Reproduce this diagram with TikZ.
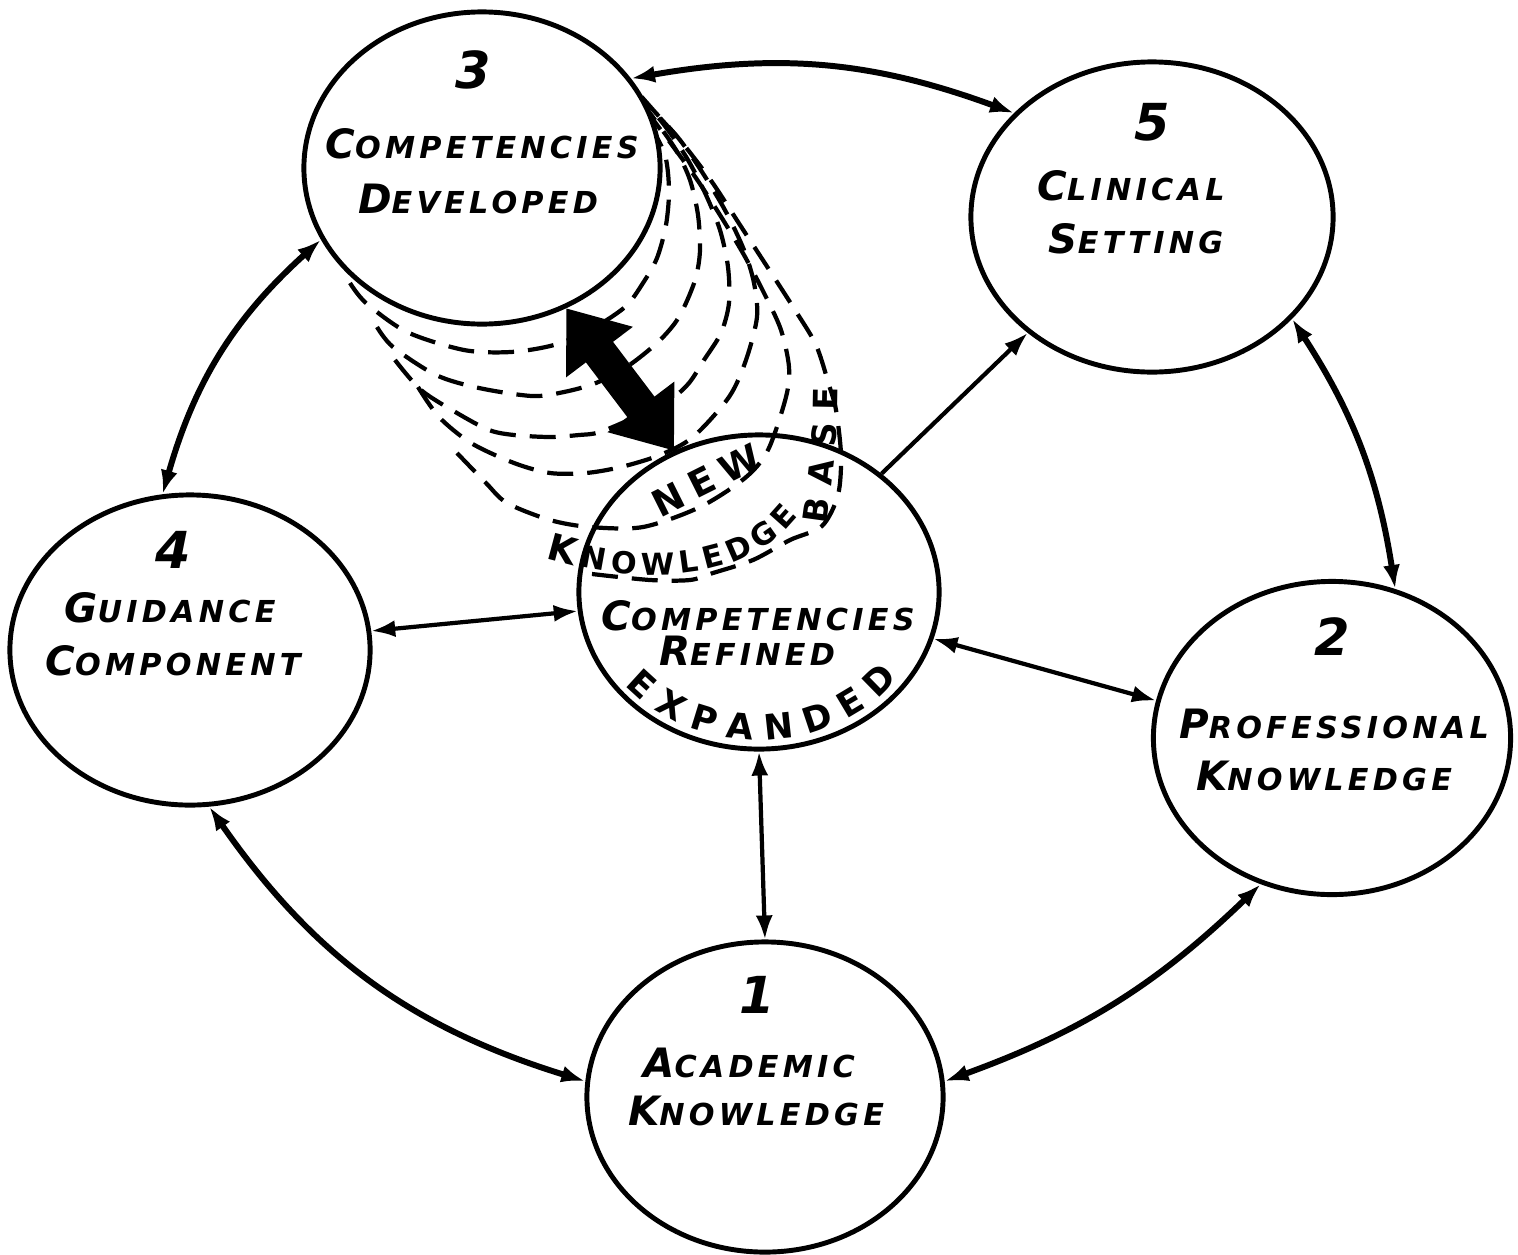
\documentclass[tikz,border=0pt]{standalone}
\usepackage{fontspec}
\setmainfont{DejaVu Sans}
\newfontfamily\hand[LetterSpace=14]{DejaVu Sans}
\newfontfamily\handc{DejaVu Sans}
\usetikzlibrary{shapes.geometric,arrows.meta,decorations.text}
\newcommand\BigL{\fontsize{11.5}{12}\selectfont}
\newcommand\SmL{\fontsize{8.6}{9}\selectfont}
\newcommand\hw[2]{{\BigL #1}{\SmL #2}}
\newcommand\numf{\fontsize{14.5}{15}\selectfont}
\begin{document}
\begin{tikzpicture}[x=0.01cm,y=0.01cm,
  blob/.style={ellipse,draw,line width=1.4pt,inner sep=0pt,fill=white},
  lbl/.style={anchor=base,inner sep=0pt,font=\hand\bfseries\itshape},
  num/.style={anchor=base,inner sep=0pt,font=\handc\bfseries\itshape\numf},
  tipa/.tip={Latex[length=2.4mm,width=1.7mm]},
  link/.style={line width=1.7pt,tipa-tipa},
  slink/.style={line width=1.2pt,tipa-tipa},
  dcurve/.style={line width=1.2pt,dash pattern=on 2.6mm off 1.4mm},
  bigarrow/.style={line width=3.4mm,{Triangle[width=8mm,length=5.5mm]}-{Triangle[width=8mm,length=5.5mm]}}]
\useasboundingbox (0,0) rectangle (1518,-1254);
\fill[white] (0,0) rectangle (1518,-1254);

% dashed echoes of node 3
\draw[dcurve] plot[smooth] coordinates {(350,-283) (366,-303) (407,-332) (464,-350) (511,-352) (554,-345) (590,-330) (625,-307) (643,-283) (657,-258) (666,-225) (669,-190) (665,-155) (650,-125)};
\draw[dcurve] plot[smooth] coordinates {(377,-327) (393,-347) (436,-375) (479,-388) (532,-396) (564,-392) (596,-383) (628,-366) (657,-343) (675,-323) (686,-303) (696,-277) (700,-250) (698,-215) (690,-180) (676,-150) (655,-120) (640,-100)};
\draw[dcurve] plot[smooth] coordinates {(395,-360) (421,-390) (457,-413) (489,-430) (514,-435) (550,-437) (579,-435) (600,-432) (640,-415) (670,-400) (689,-383) (704,-360) (721,-333) (729,-303) (728,-267) (720,-230) (706,-195) (688,-160) (668,-130) (648,-105)};
\draw[dcurve] plot[smooth] coordinates {(418,-387) (439,-417) (471,-443) (514,-463) (550,-473) (586,-473) (621,-467) (660,-455) (693,-437) (729,-397) (746,-360) (757,-317) (754,-283) (744,-250) (726,-212) (704,-175) (680,-140) (655,-112) (640,-95)};
\draw[dcurve] plot[smooth] coordinates {(457,-453) (486,-483) (507,-503) (550,-520) (590,-527) (643,-527) (700,-507) (745,-478) (768,-450) (786,-397) (789,-367) (781,-330) (765,-295) (744,-255) (720,-215) (696,-178) (672,-145) (652,-118) (640,-100)};
\draw[dcurve] plot[smooth] coordinates {(592,-574) (650,-580) (690,-580) (713,-573) (753,-560) (790,-540) (822,-526) (838,-495) (841,-455) (836,-410) (829,-385) (816,-345) (795,-310) (768,-268) (740,-225) (712,-182) (684,-145) (662,-120) (648,-105)};

% nodes
\node[blob,minimum width=3.56cm,minimum height=3.12cm] (n3) at (482,-168) {};
\node[blob,minimum width=3.62cm,minimum height=3.10cm] (n5) at (1152,-217) {};
\node[blob,minimum width=3.60cm,minimum height=3.10cm] (n4) at (190,-650) {};
\node[blob,minimum width=3.60cm,minimum height=3.14cm,fill=none] (nc) at (759,-592) {};
\node[blob,minimum width=3.57cm,minimum height=3.13cm] (n2) at (1332,-738) {};
\node[blob,minimum width=3.56cm,minimum height=3.10cm] (n1) at (765,-1097) {};

% texts
\node[num] (t3) at (473,-88) {3};
\node[lbl] (t3a) at (482,-158) {\hw{C}{OMPETENCIES}};
\node[lbl] (t3b) at (478,-213) {\hw{D}{EVELOPED}};
\node[num] (t5) at (1152,-140) {5};
\node[lbl] (t5a) at (1131,-200) {\hw{C}{LINICAL}};
\node[lbl] (t5b) at (1136,-253) {\hw{S}{ETTING}};
\node[num] (t4) at (173,-568) {4};
\node[lbl] (t4a) at (170,-622) {\hw{G}{UIDANCE}};
\node[lbl] (t4b) at (173,-675) {\hw{C}{OMPONENT}};
\node[lbl] (tca) at (758,-630) {\hw{C}{OMPETENCIES}};
\node[lbl] (tcb) at (747,-665) {\hw{R}{EFINED}};
\node[num] (t2) at (1332,-655) {2};
\node[lbl] (t2a) at (1334,-738) {\hw{P}{ROFESSIONAL}};
\node[lbl] (t2b) at (1324,-790) {\hw{K}{NOWLEDGE}};
\node[num] (t1) at (757,-1013) {1};
\node[lbl] (t1a) at (749,-1077) {\hw{A}{CADEMIC}};
\node[lbl] (t1b) at (756,-1125) {\hw{K}{NOWLEDGE}};

% curved labels
\path[decorate,decoration={text along path,text align=fit to path,
  text={|\handc\bfseries\fontsize{10.5}{11}\selectfont|NEW}}]
  (660,-518) -- (764,-466);
\path[decorate,decoration={text along path,text align=fit to path,
  text={|\handc\bfseries\fontsize{10.5}{11}\selectfont|K|\handc\bfseries\fontsize{8.6}{9}\selectfont|NOWLEDGE}}]
  (546,-558) .. controls (645,-588) and (750,-580) .. (798,-516);
\path[decorate,decoration={text along path,text align=fit to path,
  text={|\handc\bfseries\fontsize{9.5}{10}\selectfont|BASE}}]
  (826,-524) .. controls (832,-480) and (838,-440) .. (838,-388);
\path[decorate,decoration={text along path,text align=fit to path,
  text={|\handc\bfseries\fontsize{10}{11}\selectfont|EXPANDED}}]
  (nc) ++(219:1.72cm and 1.48cm) arc[start angle=219,end angle=324,x radius=1.72cm,y radius=1.48cm];

% connectors
\draw[link] (n3.31) to[bend left=15] (n5.143);
\draw[link] (n5.-36) to[bend left=12] (n2.67);
\draw[link] (n3.-156) to[bend right=16] (n4.100);
\draw[link] (n4.-83) to[bend right=19] (n1.175);
\draw[link] (n2.-116) to[bend left=12] (n1.5);
\draw[slink] (n4.6) -- (nc.186);
\draw[slink] (nc.-15) -- (n2.168);
\draw[slink] (nc.-90) -- (n1.90);
\draw[slink,-tipa] (nc.44) -- (n5.-137);
\draw[bigarrow] (n3.-59) -- (nc.121);
\end{tikzpicture}
\end{document}
